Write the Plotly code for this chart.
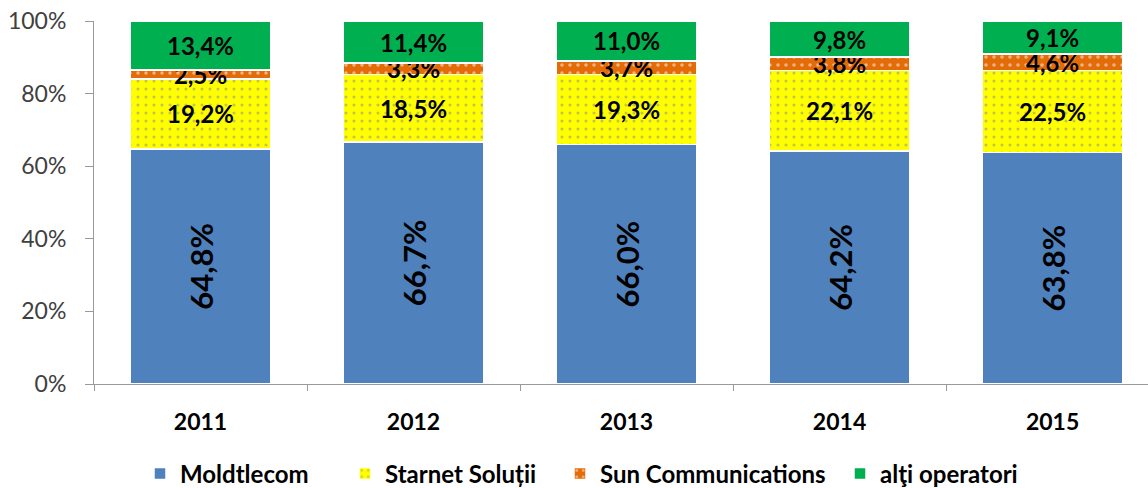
import plotly.graph_objects as go

years = ["2011", "2012", "2013", "2014", "2015"]
moldtelecom = [64.8, 66.7, 66.0, 64.2, 63.8]
starnet = [19.2, 18.5, 19.3, 22.1, 22.5]
sun = [2.5, 3.3, 3.7, 3.8, 4.6]
alti = [13.4, 11.4, 11.0, 9.8, 9.1]

FONT = "Lato, 'Open Sans', sans-serif"
W, H = 1148, 488
fig = go.Figure()

series = [
    ("Moldtlecom", moldtelecom, "#4F81BD", None, -90, 31, "legend", 180),
    ("Starnet Soluții", starnet, "#FFFF00", dict(shape=".", fgcolor="#8a8a8a", bgcolor="#FFFF00", size=8, solidity=0.12), 0, 24, "legend2", 385),
    ("Sun Communications", sun, "#E36C09", dict(shape=".", fgcolor="#FFFFFF", bgcolor="#E36C09", size=8, solidity=0.15), 0, 24, "legend3", 600),
    ("alţi operatori", alti, "#00B050", None, 0, 24, "legend4", 880),
]

legends = {}
for name, vals, color, pattern, angle, fs, leg, textx in series:
    marker = dict(color=color, line=dict(color="white", width=1.5))
    if pattern:
        marker["pattern"] = pattern
    fig.add_trace(go.Bar(
        x=years, y=vals, name=name, marker=marker,
        texttemplate="<b>%{y:.1f}%</b>", textposition="inside",
        insidetextanchor="middle", textangle=angle,
        constraintext="none",
        textfont=dict(family=FONT, size=fs, color="black"),
        hoverinfo="skip", legend=leg,
    ))
    legends[leg] = dict(
        orientation="h", xref="container", x=(textx - 40) / W, xanchor="left",
        yref="container", y=14 / H, yanchor="middle",
        font=dict(family=FONT, size=24, color="black", weight="bold"),
        bgcolor="rgba(0,0,0,0)",
    )

fig.update_layout(
    barmode="stack",
    bargap=0.34,
    separators=",.",
    width=W, height=H,
    margin=dict(l=94, r=0, t=21, b=104, autoexpand=False),
    plot_bgcolor="white", paper_bgcolor="white",
    font=dict(family=FONT, color="#404040"),
    showlegend=True,
    **legends,
)
fig.update_xaxes(
    range=[-0.5, 4.448],
    showline=True, linecolor="#9a9a9a", linewidth=1,
    ticks="outside", tickson="boundaries", ticklen=6, tickcolor="#9a9a9a",
    tickfont=dict(family=FONT, size=23, color="black", weight="bold"),
    ticklabelstandoff=17,
    showgrid=False, automargin=False,
)
fig.update_yaxes(
    range=[0, 100], dtick=20, ticksuffix="%",
    showline=True, linecolor="#9a9a9a", linewidth=1,
    ticks="outside", ticklen=8, tickcolor="#9a9a9a",
    tickfont=dict(family=FONT, size=23, color="#404040"),
    ticklabelstandoff=14,
    showgrid=False, zeroline=False, automargin=False,
)

fig.write_html("out.html", config={"displayModeBar": False},
               post_script="document.body.style.margin='0';")
